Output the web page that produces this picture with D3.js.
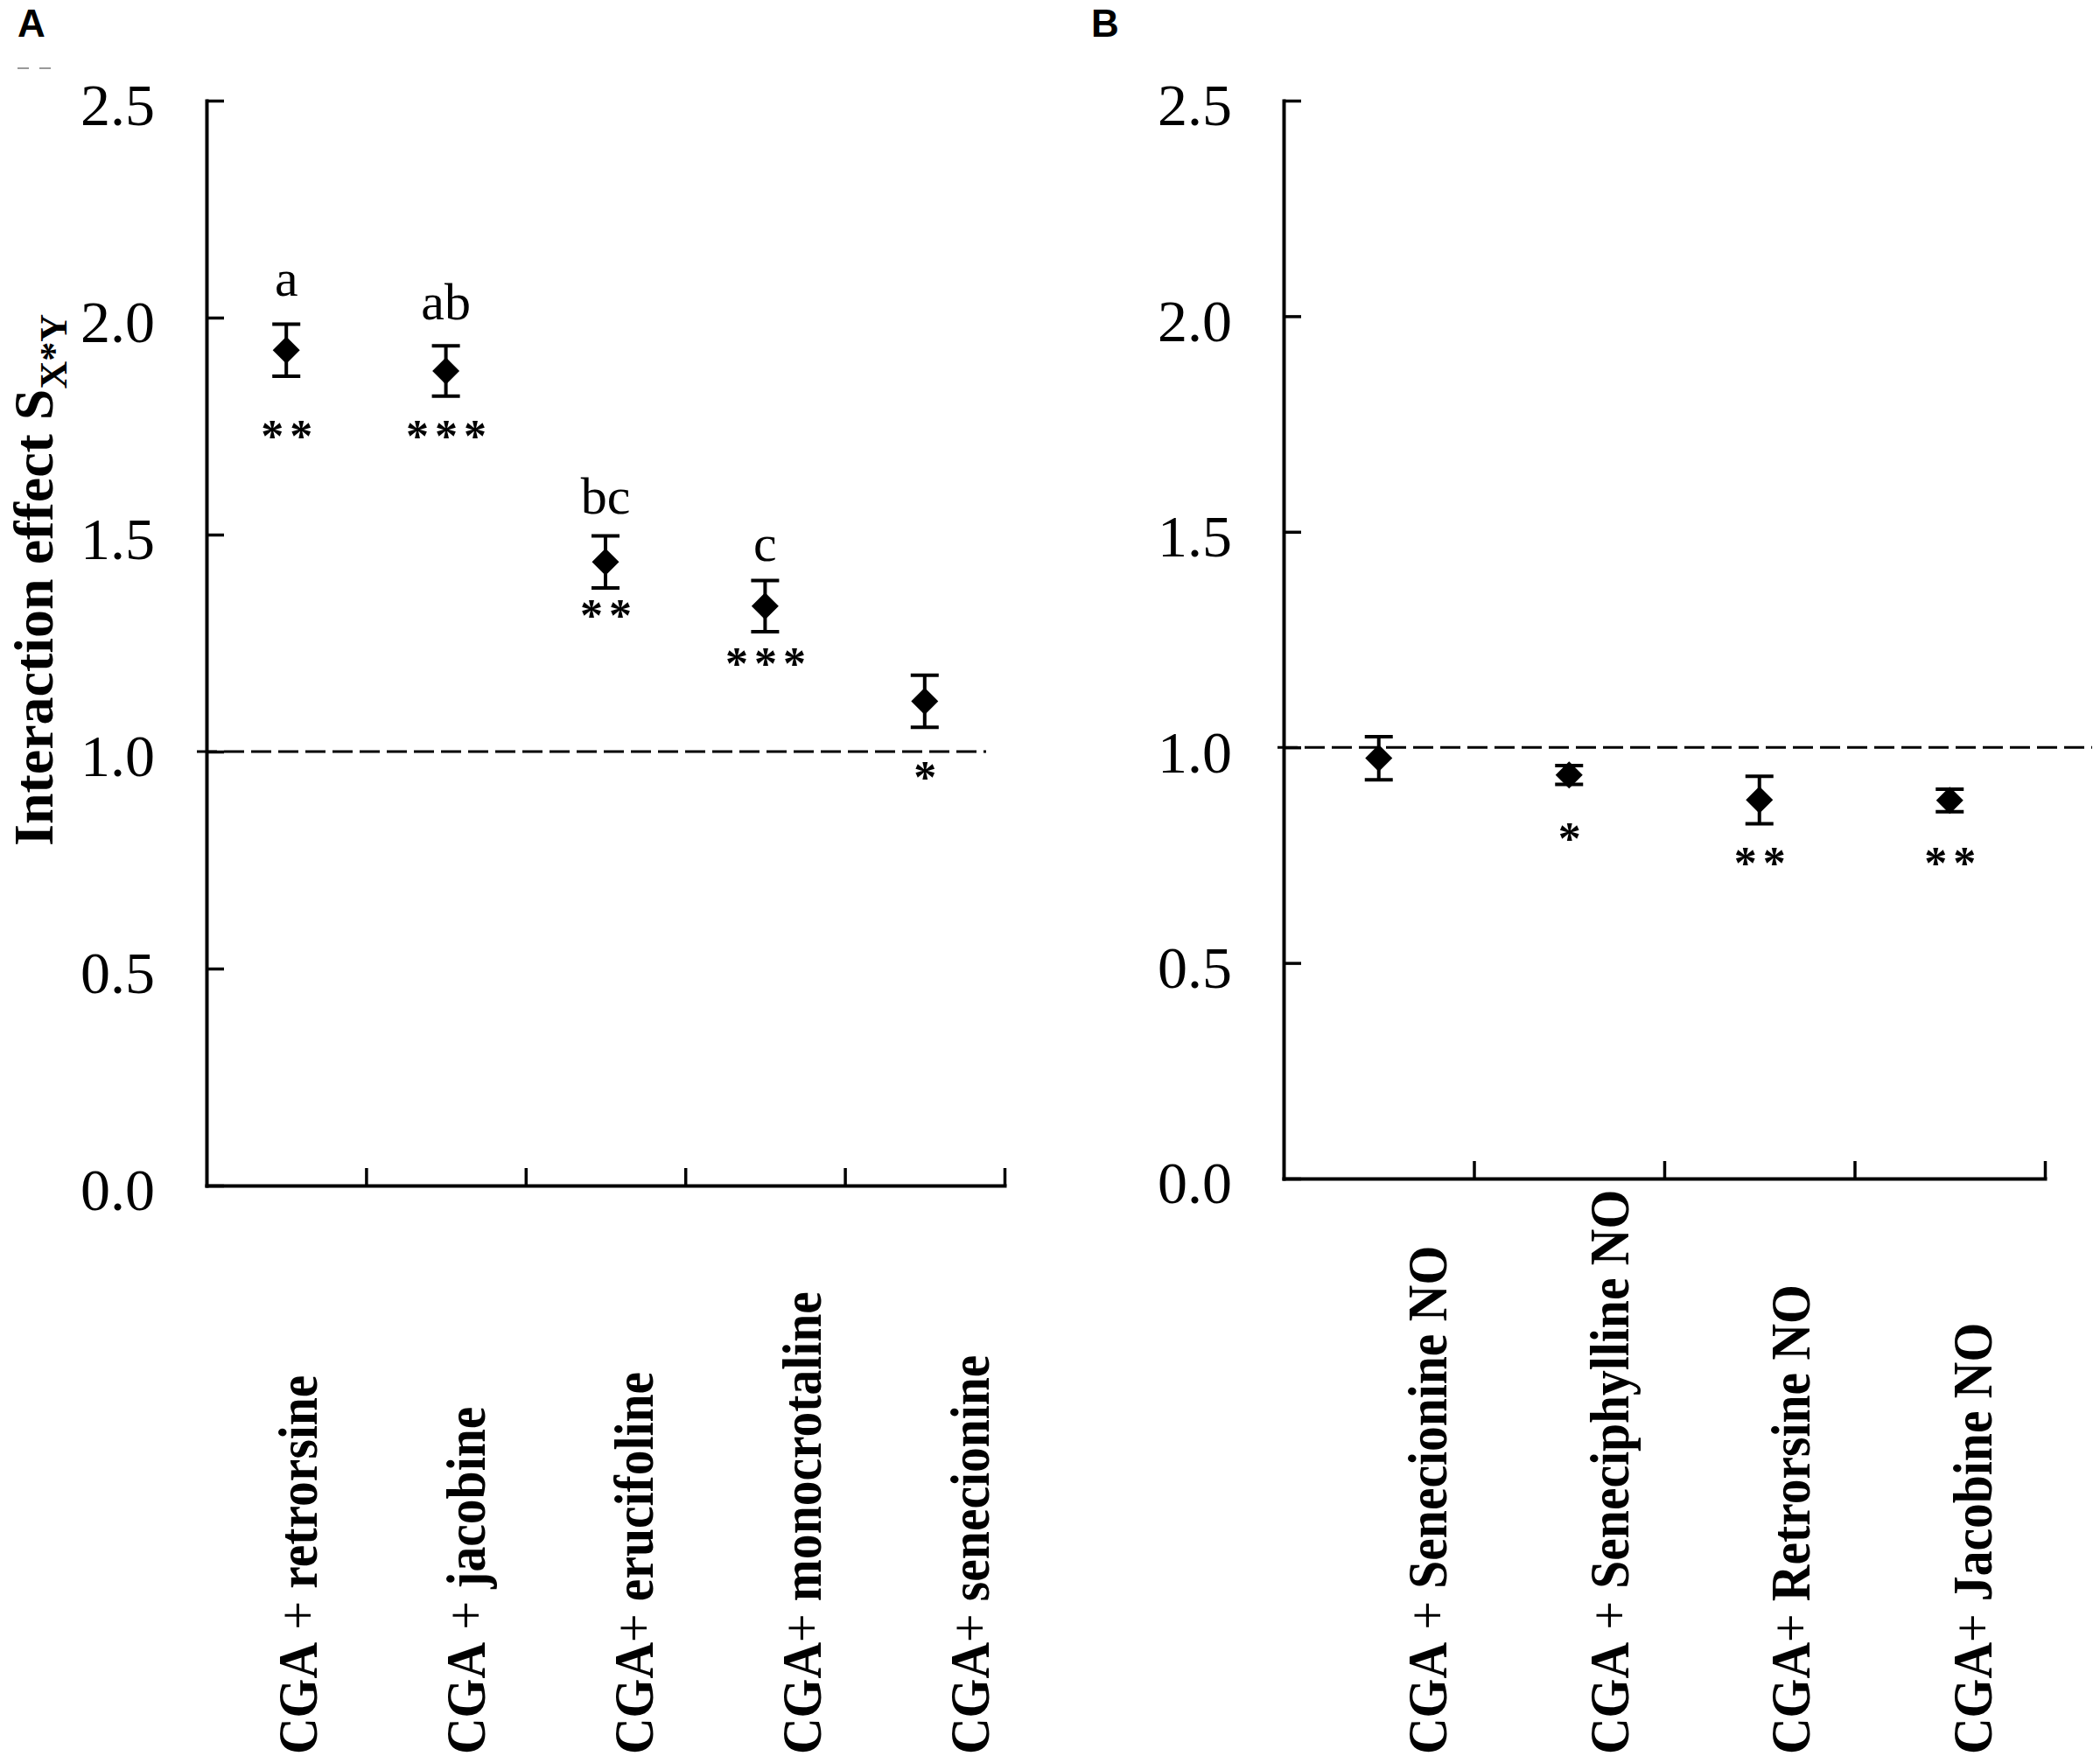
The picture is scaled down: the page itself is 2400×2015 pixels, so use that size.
<!DOCTYPE html>
<html>
<head>
<meta charset="utf-8">
<script src="https://cdn.jsdelivr.net/npm/d3@7"></script>
<style>
  html, body { margin: 0; padding: 0; background: #fff; }
  svg { display: block; }
  text { white-space: pre; }
</style>
</head>
<body>
<script>
// ---------------- DATA ----------------
const categoriesA = ["CGA + retrorsine", "CGA + jacobine", "CGA+ erucifoline", "CGA+ monocrotaline", "CGA+ senecionine"];
const meansA      = [1.925, 1.877, 1.437, 1.335, 1.116];
const errorsA     = [0.060, 0.058, 0.060, 0.059, 0.060];
const lettersA    = ["a", "ab", "bc", "c", ""];
const letterLevelA = [2.050, 1.996, 1.548, 1.440, null];
const starsA      = ["**", "***", "**", "***", "*"];
const starLevelA  = [1.740, 1.740, 1.327, 1.216, 0.954];

const categoriesB = ["CGA + Senecionine NO", "CGA + Seneciphylline NO", "CGA+ Retrorsine NO", "CGA+ Jacobine NO"];
const meansB      = [0.975, 0.936, 0.878, 0.877];
const errorsB     = [0.050, 0.022, 0.055, 0.026];
const starsB      = ["", "*", "**", "**"];
const starLevelB  = [null, 0.802, 0.745, 0.745];

const yTickValues = [0, 0.5, 1.0, 1.5, 2.0, 2.5];
const referenceLevel = 1.0;
const yTitleMain = "Interaction effect S";
const yTitleSub = "X*Y";

// ---------------- LAYOUT ----------------
const W = 2400, H = 2015;
const SERIF = "'Liberation Serif', 'Times New Roman', Times, serif";
const SANS = "'Liberation Sans', Arial, Helvetica, sans-serif";

const svg = d3.select("body").append("svg")
  .attr("width", W).attr("height", H)
  .attr("viewBox", `0 0 ${W} ${H}`);
svg.append("rect").attr("width", W).attr("height", H).attr("fill", "#fff");

function splitLabel(s) {
  const m = s.match(/^(CGA)(\s*\+\s*)(.*)$/);
  return m ? [m[1], m[2], m[3]] : [s, "", ""];
}

function drawPanel(cfg) {
  const g = svg.append("g");
  const y = d3.scaleLinear().domain([0, 2.5]).range([cfg.yBottom, cfg.yTop]);
  const xb = d3.scaleBand().domain(cfg.cats).range([cfg.x0, cfg.x1]);
  const xl = d3.scaleLinear().domain([0, cfg.cats.length]).range([cfg.x0, cfg.x1]);
  const xLab = d3.scalePoint().domain(cfg.cats).range(cfg.labelRange);

  // y axis
  const ya = g.append("g")
    .attr("transform", `translate(${cfg.x0},0)`)
    .call(d3.axisLeft(y).tickValues(yTickValues).tickFormat(d3.format(".1f"))
      .tickSizeInner(-20).tickSizeOuter(0).tickPadding(59));
  ya.select(".domain").attr("stroke", "#000").attr("stroke-width", 4).attr("stroke-linecap", "square");
  ya.selectAll(".tick line").attr("stroke", "#000").attr("stroke-width", 3.5);
  ya.selectAll(".tick text")
    .attr("font-family", SERIF).attr("font-size", 68).attr("fill", "#000")
    .attr("dy", "0.41em");

  // x axis (boundary ticks)
  const xa = g.append("g")
    .attr("transform", `translate(0,${cfg.yBottom})`)
    .call(d3.axisBottom(xl).tickValues(d3.range(1, cfg.cats.length + 1)).tickFormat("")
      .tickSizeInner(-20).tickSizeOuter(0));
  xa.select(".domain").attr("stroke", "#000").attr("stroke-width", 4).attr("stroke-linecap", "square");
  xa.selectAll(".tick line").attr("stroke", "#000").attr("stroke-width", 3.5);
  xa.selectAll(".tick text").remove();

  // reference dashed line
  g.append("line")
    .attr("x1", cfg.dashX[0]).attr("x2", cfg.dashX[1])
    .attr("y1", y(referenceLevel)).attr("y2", y(referenceLevel))
    .attr("stroke", "#000").attr("stroke-width", 3)
    .attr("stroke-dasharray", "23,8");

  const cx = d => xb(d) + xb.bandwidth() / 2;
  const pts = cfg.cats.map((c, i) => ({ c, m: cfg.means[i], e: cfg.errs[i] }));

  // error bars
  const eb = g.append("g").attr("stroke", "#000").attr("stroke-width", 4);
  eb.selectAll("line.v").data(pts).join("line").attr("class", "v")
    .attr("x1", d => cx(d.c)).attr("x2", d => cx(d.c))
    .attr("y1", d => y(d.m - d.e)).attr("y2", d => y(d.m + d.e));
  eb.selectAll("line.t").data(pts).join("line").attr("class", "t")
    .attr("x1", d => cx(d.c) - 16).attr("x2", d => cx(d.c) + 16)
    .attr("y1", d => y(d.m + d.e)).attr("y2", d => y(d.m + d.e));
  eb.selectAll("line.b").data(pts).join("line").attr("class", "b")
    .attr("x1", d => cx(d.c) - 16).attr("x2", d => cx(d.c) + 16)
    .attr("y1", d => y(d.m - d.e)).attr("y2", d => y(d.m - d.e));

  // diamonds
  const sym = d3.symbol(d3.symbolSquare, 480);
  g.append("g").selectAll("path").data(pts).join("path")
    .attr("d", sym)
    .attr("transform", d => `translate(${cx(d.c)},${y(d.m)}) rotate(45)`)
    .attr("fill", "#000");

  // letters
  if (cfg.letters) {
    g.append("g").selectAll("text").data(cfg.cats.map((c, i) => ({ c, t: cfg.letters[i], l: cfg.letterLevels[i] })).filter(d => d.t))
      .join("text")
      .attr("x", d => cx(d.c)).attr("y", d => y(d.l))
      .attr("text-anchor", "middle")
      .attr("font-family", SERIF).attr("font-size", 60).attr("fill", "#000")
      .text(d => d.t);
  }

  // significance stars
  g.append("g").selectAll("text").data(cfg.cats.map((c, i) => ({ c, t: cfg.stars[i], l: cfg.starLevels[i] })).filter(d => d.t))
    .join("text")
    .attr("x", d => cx(d.c) + 4).attr("y", d => y(d.l) + 24)
    .attr("text-anchor", "middle")
    .attr("letter-spacing", 7)
    .attr("font-family", SERIF).attr("font-weight", "bold").attr("font-size", 52).attr("fill", "#000")
    .text(d => d.t);

  // category labels (rotated)
  const lab = g.append("g").selectAll("text").data(cfg.cats).join("text")
    .attr("transform", d => `translate(${xLab(d) + 21},${cfg.labelStart}) rotate(-90) scale(0.9,1)`)
    .attr("text-anchor", "start")
    .attr("font-family", SERIF).attr("font-size", 64).attr("fill", "#000");
  lab.each(function (d) {
    const [a, p, r] = splitLabel(d);
    const t = d3.select(this);
    t.append("tspan").attr("font-weight", "bold").text(a);
    t.append("tspan").attr("font-weight", "normal").text(p);
    t.append("tspan").attr("font-weight", "bold").text(r);
  });
}

drawPanel({
  cats: categoriesA, means: meansA, errs: errorsA,
  letters: lettersA, letterLevels: letterLevelA,
  stars: starsA, starLevels: starLevelA,
  x0: 236, x1: 1148, yTop: 115, yBottom: 1355,
  dashX: [225, 1127],
  labelRange: [341, 1109], labelStart: 2005
});

drawPanel({
  cats: categoriesB, means: meansB, errs: errorsB,
  letters: null, letterLevels: null,
  stars: starsB, starLevels: starLevelB,
  x0: 1467, x1: 2337, yTop: 115, yBottom: 1347,
  dashX: [1460, 2391],
  labelRange: [1632, 2255], labelStart: 2005
});

// y-axis title (panel A)
const yt = svg.append("text")
  .attr("transform", "translate(60,967) rotate(-90)")
  .attr("font-family", SERIF).attr("font-weight", "bold").attr("font-size", 64).attr("fill", "#000");
yt.append("tspan").text(yTitleMain);
yt.append("tspan").attr("font-size", 44).attr("dy", 16).text(yTitleSub);

// panel letters
svg.append("text").attr("x", 20).attr("y", 42)
  .attr("font-family", SANS).attr("font-weight", "bold").attr("font-size", 44).attr("fill", "#000").text("A");
svg.append("text").attr("x", 1247).attr("y", 42)
  .attr("font-family", SANS).attr("font-weight", "bold").attr("font-size", 44).attr("fill", "#000").text("B");

// small gray dash artefact under panel letter A
svg.append("line").attr("x1", 20).attr("x2", 63).attr("y1", 78).attr("y2", 78)
  .attr("stroke", "#999").attr("stroke-width", 2).attr("stroke-dasharray", "13,12");
</script>
</body>
</html>
